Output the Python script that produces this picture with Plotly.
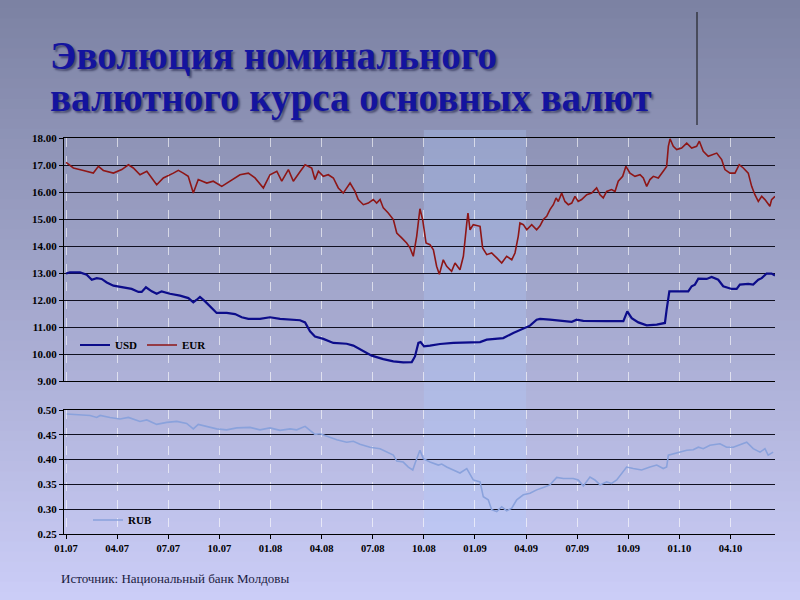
import plotly.graph_objects as go

# time axis: months since 01.2007
tick_pos = [0, 3, 6, 9, 12, 15, 18, 21, 24, 27, 30, 33, 36, 39]
tick_labels = ["01.07", "04.07", "07.07", "10.07", "01.08", "04.08", "07.08",
               "10.08", "01.09", "04.09", "07.09", "10.09", "01.10", "04.10"]

eur_t = [0.00, 0.43, 1.02, 1.60, 1.90, 2.19, 2.78, 3.27, 3.66, 3.95, 4.34, 4.74, 5.32, 5.71, 6.30, 6.59,
         6.88, 7.17, 7.47, 7.76, 8.26, 8.64, 9.14, 9.62, 10.21, 10.70, 11.09, 11.58, 11.97, 12.37, 12.66,
         13.05, 13.34,
         13.73, 14.03, 14.42, 14.61, 14.81, 15.10, 15.39, 15.69, 15.98, 16.27, 16.67, 16.96, 17.15, 17.45,
         17.74, 18.03, 18.23, 18.43, 18.62, 18.91, 19.21, 19.41, 19.70, 19.99, 20.19, 20.38, 20.58, 20.77,
         20.93, 21.13, 21.36, 21.56, 21.75, 21.91, 22.14, 22.34, 22.63, 22.83, 23.12, 23.32, 23.52, 23.59,
         23.71, 23.90, 24.30, 24.45, 24.69, 24.98, 25.28, 25.57, 25.86, 26.16, 26.35, 26.54, 26.64, 26.84,
         27.04, 27.33, 27.62,
         27.82, 28.01, 28.21, 28.40, 28.60, 28.76, 28.89, 29.09, 29.28, 29.48, 29.68, 29.87, 30.06, 30.26,
         30.56, 30.85, 31.14, 31.34, 31.53, 31.73, 32.02, 32.22, 32.41, 32.67, 32.86, 33.10, 33.39, 33.69,
         33.88, 34.08, 34.27, 34.47, 34.76, 35.05, 35.25, 35.35, 35.45, 35.64, 35.84, 36.13, 36.43, 36.72,
         37.01, 37.17, 37.40, 37.69, 37.99, 38.19, 38.48, 38.67, 38.97, 39.26, 39.51, 39.75, 40.04, 40.24,
         40.43, 40.63, 40.83, 41.02, 41.31, 41.41, 41.61]
eur = [17.10, 16.89, 16.80, 16.70, 16.95, 16.80, 16.70, 16.83, 17.01, 16.89, 16.64, 16.77, 16.27, 16.52, 16.70, 16.80,
       16.70, 16.58, 15.96, 16.46, 16.33, 16.40, 16.21, 16.40, 16.64, 16.70, 16.52, 16.15, 16.64, 16.77, 16.40,
       16.83, 16.40,
       16.75, 17.01, 16.89, 16.46, 16.77, 16.58, 16.64, 16.52, 16.15, 15.96, 16.33, 16.02, 15.72, 15.53,
       15.59, 15.72, 15.59, 15.72, 15.41, 15.22, 14.98, 14.48, 14.30, 14.11, 13.93, 13.62, 14.36, 15.38,
       14.98, 14.11, 14.05, 13.86, 13.25, 12.95, 13.49, 13.25, 13.06, 13.37, 13.12, 13.62, 14.85, 15.22,
       14.60, 14.79, 14.73, 13.93, 13.68, 13.74, 13.56, 13.37, 13.62, 13.49, 13.74, 14.36, 14.85, 14.79,
       14.60, 14.79, 14.60,
       14.75, 14.98, 15.10, 15.35, 15.53, 15.78, 15.65, 15.96, 15.65, 15.53, 15.59, 15.84, 15.65, 15.72,
       15.90, 15.96, 16.15, 15.90, 15.78, 16.02, 16.09, 16.02, 16.40, 16.58, 16.95, 16.70, 16.58, 16.64,
       16.52, 16.21, 16.46, 16.58, 16.52, 16.77, 16.95, 17.69, 17.97, 17.69, 17.57, 17.63, 17.81, 17.63,
       17.69, 17.88, 17.51, 17.32, 17.38, 17.44, 17.20, 16.83, 16.70, 16.70, 17.01, 16.89, 16.70, 16.21,
       15.90, 15.65, 15.84, 15.72, 15.47, 15.72, 15.84]

usd_t = [0.00, 0.23, 0.82, 1.21, 1.51, 1.80, 2.09, 2.39, 2.78, 3.36, 3.85, 4.25, 4.44, 4.69, 5.03, 5.32,
         5.61, 6.10, 6.69, 7.18, 7.47, 7.67, 7.86, 8.16, 8.55, 8.84, 9.43, 9.92, 10.31, 10.70, 11.38, 11.97,
         12.56, 13.15,
         13.73, 14.03, 14.32, 14.61, 15.10, 15.69, 16.47, 16.86, 17.45, 17.94, 18.62, 19.21, 19.79, 20.29,
         20.48, 20.68, 20.81, 21.01, 21.36, 21.95, 22.73, 23.52, 24.30, 24.69, 25.66, 26.25, 26.84, 27.23,
         27.62,
         27.82, 28.40, 29.19, 29.68, 29.97, 30.36, 31.73, 32.71, 32.94, 33.20, 33.59, 34.08, 34.67, 35.15,
         35.25, 35.41, 35.64, 36.52, 36.72, 36.91, 37.11, 37.60, 37.89, 38.28, 38.57, 39.07, 39.36, 39.55,
         40.04, 40.33, 40.63, 40.83, 41.12, 41.41, 41.61]
usd = [12.98, 13.02, 13.02, 12.94, 12.75, 12.81, 12.78, 12.65, 12.53, 12.48, 12.41, 12.30, 12.30, 12.47, 12.32, 12.23,
       12.32, 12.23, 12.16, 12.07, 11.91, 12.01, 12.11, 11.95, 11.70, 11.52, 11.52, 11.48, 11.36, 11.30, 11.30, 11.36,
       11.30, 11.27,
       11.25, 11.17, 10.84, 10.65, 10.56, 10.41, 10.38, 10.31, 10.10, 9.94, 9.81, 9.73, 9.69, 9.70,
       9.91, 10.41, 10.44, 10.28, 10.31, 10.37, 10.41, 10.43, 10.44, 10.53, 10.59, 10.78, 10.96, 11.05,
       11.27,
       11.30, 11.27, 11.21, 11.19, 11.27, 11.23, 11.22, 11.22, 11.58, 11.33, 11.17, 11.06, 11.09, 11.15,
       11.64, 12.32, 12.32, 12.32, 12.51, 12.57, 12.79, 12.78, 12.85, 12.75, 12.51, 12.41, 12.41, 12.57,
       12.60, 12.57, 12.75, 12.81, 12.98, 12.98, 12.91]

rub_t = [0.04, 0.82, 1.41, 1.80, 2.00, 2.58, 3.17, 3.66, 4.34, 4.74, 5.32, 5.91, 6.50, 7.08, 7.47, 7.76,
         8.26, 8.84, 9.43, 10.02, 10.80, 11.38, 11.97, 12.56, 13.15, 13.54, 14.03, 14.32, 14.61, 14.91, 15.30,
         15.89, 16.47, 16.86, 17.25, 17.84, 18.43, 18.82, 19.21, 19.41, 19.79, 20.09, 20.35, 20.48,
         20.77, 20.97, 21.36, 21.85, 22.05, 22.34, 22.73, 23.12, 23.52, 23.71, 23.90, 24.30, 24.49, 24.78,
         24.98, 25.28, 25.57, 25.86, 26.16, 26.45, 26.84, 27.23, 27.62, 28.01, 28.40, 28.80, 29.19, 29.77,
         30.06, 30.36, 30.75, 31.04, 31.34, 31.73, 32.02, 32.32, 32.71, 32.90, 33.29, 33.78, 34.27, 34.67,
         35.05, 35.25, 35.35, 35.64, 36.03, 36.43, 36.81, 37.11, 37.40, 37.79, 38.38, 38.77, 39.16, 39.65,
         39.95, 40.33, 40.73, 41.02, 41.21, 41.50]
rub = [0.492, 0.491, 0.489, 0.485, 0.489, 0.485, 0.482, 0.485, 0.477, 0.480, 0.471, 0.475, 0.477, 0.473, 0.462, 0.471,
       0.467, 0.462, 0.460, 0.464, 0.465, 0.460, 0.464, 0.459, 0.462, 0.460, 0.467, 0.459, 0.451, 0.452, 0.447,
       0.440, 0.435, 0.437, 0.431, 0.425, 0.422, 0.415, 0.409, 0.397, 0.395, 0.385, 0.379, 0.392,
       0.419, 0.402, 0.395, 0.389, 0.391, 0.385, 0.379, 0.373, 0.382, 0.369, 0.359, 0.355, 0.325, 0.319,
       0.299, 0.295, 0.305, 0.297, 0.302, 0.319, 0.329, 0.332, 0.339, 0.344, 0.349, 0.364, 0.362, 0.362,
       0.359, 0.347, 0.365, 0.359, 0.349, 0.355, 0.352, 0.359, 0.375, 0.385, 0.382, 0.379, 0.385, 0.389,
       0.382, 0.385, 0.409, 0.412, 0.415, 0.419, 0.420, 0.425, 0.422, 0.429, 0.432, 0.425, 0.425, 0.432,
       0.435, 0.422, 0.415, 0.422, 0.409, 0.415]

crisis_start, crisis_end = 21, 27

FONT = "Liberation Serif"
W, H = 800, 600
ML, MR, MT, MB = 64, 25, 138, 66
PW, PH = W - ML - MR, H - MT - MB


def px_x(px):
    return (px - ML) / PW


def px_y(py):
    return (H - MB - py) / PH


fig = go.Figure()
fig.add_trace(go.Scatter(x=usd_t, y=usd, mode="lines", name="USD", xaxis="x2", yaxis="y",
                         line=dict(color="#0c0c8a", width=2.2), legend="legend"))
fig.add_trace(go.Scatter(x=eur_t, y=eur, mode="lines", name="EUR", xaxis="x2", yaxis="y",
                         line=dict(color="#8e1616", width=1.6), legend="legend"))
fig.add_trace(go.Scatter(x=rub_t, y=rub, mode="lines", name="RUB", xaxis="x", yaxis="y2",
                         line=dict(color="#8aa2dc", width=1.6), legend="legend2"))

shapes = []
# background gradient
N = 60
top_c = (124, 130, 163)
bot_c = (203, 205, 247)
y_lo, y_hi = px_y(H + 2), px_y(-2)
for i in range(N):
    f = i / (N - 1)
    c = tuple(int(round(top_c[k] + (bot_c[k] - top_c[k]) * f)) for k in range(3))
    y1 = y_hi - (y_hi - y_lo) * i / N
    y0 = y_hi - (y_hi - y_lo) * (i + 1) / N - 0.002
    shapes.append(dict(type="rect", xref="paper", yref="paper", x0=px_x(-2), x1=px_x(W + 2),
                       y0=y0, y1=y1, fillcolor="rgb(%d,%d,%d)" % c, line=dict(width=0), layer="below"))
# crisis shading
shapes.append(dict(type="rect", xref="x", yref="paper", x0=crisis_start, x1=crisis_end,
                   y0=px_y(540), y1=px_y(130), fillcolor="rgba(175,205,255,0.28)",
                   line=dict(width=0), layer="below"))
# decorative vertical line at top right
shapes.append(dict(type="line", xref="paper", yref="paper", x0=px_x(697), x1=px_x(697),
                   y0=px_y(12), y1=px_y(125), line=dict(color="#101010", width=1)))

title_font = dict(family=FONT, size=39, color="#14149e", weight="bold",
                  shadow="2px 2px 2px rgba(0,0,40,0.45)")
annotations = [
    dict(text="Эволюция номинального", xref="paper", yref="paper", x=px_x(48), y=px_y(55),
         xanchor="left", yanchor="middle", showarrow=False, font=title_font),
    dict(text="валютного курса основных валют", xref="paper", yref="paper", x=px_x(48), y=px_y(98),
         xanchor="left", yanchor="middle", showarrow=False, font=title_font),
    dict(text="Источник: Национальный банк Молдовы", xref="paper", yref="paper", x=px_x(59), y=px_y(578),
         xanchor="left", yanchor="middle", showarrow=False,
         font=dict(family=FONT, size=13, color="#1a1a40")),
]

tickfont = dict(family=FONT, size=11, color="black", weight="bold")
vgrid = dict(showgrid=True, gridcolor="rgba(255,255,255,0.6)", griddash="dash", gridwidth=1)

fig.update_layout(
    width=W, height=H,
    margin=dict(l=ML, r=MR, t=MT, b=MB),
    paper_bgcolor="rgb(124,130,163)",
    plot_bgcolor="rgba(0,0,0,0)",
    shapes=shapes,
    annotations=annotations,
    xaxis=dict(domain=[0, 1], anchor="y2", range=[-0.12, 41.61], tickvals=tick_pos, ticktext=tick_labels,
               ticks="outside", ticklen=4, tickcolor="black", showline=True, mirror=True,
               linecolor="black", linewidth=1, zeroline=False, tickfont=dict(family=FONT, size=10.5,
                                                                             color="black", weight="bold"),
               **vgrid),
    xaxis2=dict(matches="x", anchor="y", range=[-0.12, 41.61], tickvals=tick_pos, showticklabels=False,
                ticks="", showline=True, mirror=True, linecolor="black", linewidth=1, zeroline=False, **vgrid),
    yaxis=dict(domain=[px_y(381), 1], anchor="x2", range=[9, 18], dtick=1, tickformat=".2f",
               showgrid=True, gridcolor="#101020", gridwidth=1, showline=True, linecolor="black",
               ticks="outside", ticklen=4, tickcolor="black", zeroline=False, tickfont=tickfont),
    yaxis2=dict(domain=[0, px_y(410)], anchor="x", range=[0.25, 0.50], dtick=0.05, tickformat=".2f",
                showgrid=True, gridcolor="#101020", gridwidth=1, showline=True, linecolor="black",
                ticks="outside", ticklen=4, tickcolor="black", zeroline=False, tickfont=tickfont),
    legend=dict(x=px_x(75), y=px_y(345), xanchor="left", yanchor="middle", orientation="h",
                bgcolor="rgba(0,0,0,0)", font=dict(family=FONT, size=11, color="black", weight="bold"),
                itemwidth=30, entrywidth=22, entrywidthmode="pixels", tracegroupgap=0),
    legend2=dict(x=px_x(88), y=px_y(520), xanchor="left", yanchor="middle", orientation="h",
                 bgcolor="rgba(0,0,0,0)", font=dict(family=FONT, size=11, color="black", weight="bold"),
                 itemwidth=30),
    showlegend=True,
)

fig.write_html("out.html", config={"displayModeBar": False},
               post_script="document.body.style.margin='0';document.body.style.overflow='hidden';")
